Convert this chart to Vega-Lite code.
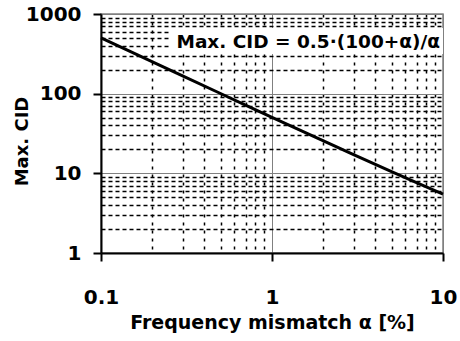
{
  "$schema": "https://vega.github.io/schema/vega-lite/v6.json",
  "width": 342,
  "height": 239,
  "autosize": {"type": "none"},
  "padding": {"left": 101, "top": 14, "right": 17, "bottom": 88},
  "background": "white",
  "config": {
    "view": {"stroke": "#808080", "strokeWidth": 1.5},
    "axis": {
      "labelFont": "DejaVu Sans", "labelFontWeight": "bold", "labelFontSize": 20, "labelColor": "black",
      "titleFont": "DejaVu Sans", "titleFontWeight": "bold", "titleFontSize": 18, "titleColor": "black",
      "domainColor": "black", "domainWidth": 2, "tickColor": "black", "tickWidth": 2, "tickSize": 8,
      "gridWidth": 1.2
    }
  },
  "layer": [
    {
      "data": {"values": [{"x1": 0.253, "x2": 10, "y1": 315, "y2": 667}]},
      "mark": {"type": "rect", "color": "white"},
      "encoding": {
        "x": {
          "field": "x1", "type": "quantitative", "title": "Frequency mismatch α [%]",
          "scale": {"type": "log", "domain": [0.1, 10], "nice": false},
          "axis": {
            "values": [0.1, 0.2, 0.3, 0.4, 0.5, 0.6, 0.7, 0.8, 0.9, 1, 2, 3, 4, 5, 6, 7, 8, 9, 10],
            "grid": true,
            "gridColor": {"condition": {"test": "datum.value == 0.1 || datum.value == 1 || datum.value == 10", "value": "#808080"}, "value": "black"},
            "gridDash": {"condition": {"test": "datum.value == 0.1 || datum.value == 1 || datum.value == 10", "value": []}, "value": [3, 5]},
            "gridWidth": {"condition": {"test": "datum.value == 0.1 || datum.value == 1 || datum.value == 10", "value": 1}, "value": 1.5},
            "tickOpacity": {"condition": {"test": "datum.value == 0.1 || datum.value == 1 || datum.value == 10", "value": 1}, "value": 0},
            "labelExpr": "datum.value == 0.1 || datum.value == 1 || datum.value == 10 ? format(datum.value, '~g') : ''",
            "labelBaseline": "alphabetic",
            "labelPadding": 42,
            "labelOverlap": false,
            "labelFlush": false,
            "titleFontSize": 19,
            "titleBaseline": "alphabetic",
            "titleY": 75
          }
        },
        "x2": {"field": "x2"},
        "y": {
          "field": "y1", "type": "quantitative", "title": "Max. CID",
          "scale": {"type": "log", "domain": [1, 1000], "nice": false},
          "axis": {
            "values": [1, 2, 3, 4, 5, 6, 7, 8, 9, 10, 20, 30, 40, 50, 60, 70, 80, 90, 100, 200, 300, 400, 500, 600, 700, 800, 900, 1000],
            "grid": true,
            "gridColor": {"condition": {"test": "datum.value == 1 || datum.value == 10 || datum.value == 100 || datum.value == 1000", "value": "#808080"}, "value": "black"},
            "gridDash": {"condition": {"test": "datum.value == 1 || datum.value == 10 || datum.value == 100 || datum.value == 1000", "value": []}, "value": [4, 3]},
            "gridWidth": {"condition": {"test": "datum.value == 1 || datum.value == 10 || datum.value == 100 || datum.value == 1000", "value": 1}, "value": 1.5},
            "tickOpacity": {"condition": {"test": "datum.value == 1 || datum.value == 10 || datum.value == 100 || datum.value == 1000", "value": 1}, "value": 0},
            "labelExpr": "datum.value == 1 || datum.value == 10 || datum.value == 100 || datum.value == 1000 ? format(datum.value, '~g') : ''",
            "labelPadding": 12,
            "labelOverlap": false,
            "labelFlush": false,
            "titleBaseline": "alphabetic",
            "titleX": -74,
            "titleY": 127
          }
        },
        "y2": {"field": "y2"}
      }
    },
    {
      "data": {"values": [
        {"a": 0.1, "cid": 500.5},
        {"a": 0.15, "cid": 333.83},
        {"a": 0.2, "cid": 250.5},
        {"a": 0.3, "cid": 167.17},
        {"a": 0.5, "cid": 100.5},
        {"a": 0.7, "cid": 71.93},
        {"a": 1, "cid": 50.5},
        {"a": 1.5, "cid": 33.83},
        {"a": 2, "cid": 25.5},
        {"a": 3, "cid": 17.17},
        {"a": 5, "cid": 10.5},
        {"a": 7, "cid": 7.64},
        {"a": 10, "cid": 5.5}
      ]},
      "mark": {"type": "line", "color": "black", "strokeWidth": 3},
      "encoding": {
        "x": {"field": "a", "type": "quantitative", "title": "Frequency mismatch α [%]"},
        "y": {"field": "cid", "type": "quantitative", "title": "Max. CID"}
      }
    },
    {
      "data": {"values": [{"a": 9.6, "cid": 374, "t": "Max. CID = 0.5·(100+α)/α"}]},
      "mark": {"type": "text", "align": "right", "baseline": "alphabetic", "font": "DejaVu Sans", "fontWeight": "bold", "fontSize": 18.5, "color": "black"},
      "encoding": {
        "x": {"field": "a", "type": "quantitative", "title": "Frequency mismatch α [%]"},
        "y": {"field": "cid", "type": "quantitative", "title": "Max. CID"},
        "text": {"field": "t"}
      }
    }
  ]
}
